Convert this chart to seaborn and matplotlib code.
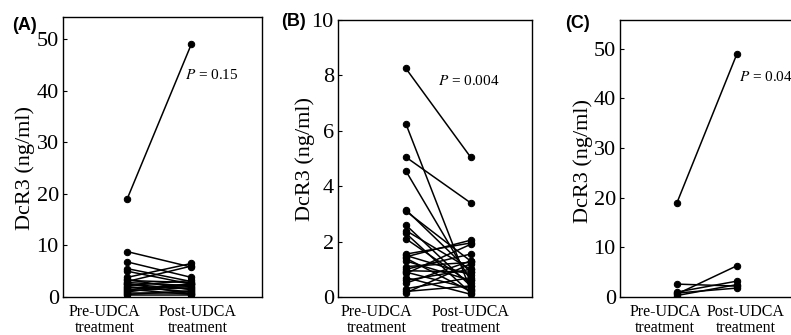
import pandas as pd
import seaborn as sb
import matplotlib.pyplot as plt

# panel A: all patients (pre, post)
a_pre = [19.0, 8.8, 6.8, 5.5, 5.0, 3.8, 3.4, 3.2, 3.0, 2.8, 2.6, 2.5, 2.2, 2.0,
         1.8, 1.5, 1.4, 1.2, 1.0, 0.8, 0.5, 0.3]
a_post = [49.0, 5.8, 3.8, 3.0, 2.5, 6.5, 1.4, 2.8, 6.0, 2.2, 0.6, 1.5, 3.2, 1.0,
          2.0, 0.5, 2.6, 1.8, 2.5, 0.8, 1.2, 0.3]

# panel B
b_pre = [8.25, 6.25, 5.05, 4.55, 3.15, 3.1, 2.6, 2.4, 2.3, 2.1, 1.55, 1.5, 1.45,
         1.4, 1.1, 1.0, 0.9, 0.85, 0.7, 0.6, 0.5, 0.3, 0.2, 0.15, 1.3, 0.95]
b_post = [5.05, 0.25, 3.4, 0.6, 0.9, 1.3, 0.4, 1.0, 0.15, 0.5, 1.95, 0.8, 2.05,
          0.2, 1.25, 1.55, 0.3, 1.9, 0.1, 1.0, 1.3, 0.7, 0.4, 1.2, 0.6, 0.9]

# panel C
c_pre = [19.0, 2.6, 0.6, 1.0, 0.3, 0.8]
c_post = [49.0, 2.2, 6.3, 3.2, 2.5, 1.8]

panels = [('(A)', a_pre, a_post, 'P = 0.15'),
          ('(B)', b_pre, b_post, 'P = 0.004'),
          ('(C)', c_pre, c_post, 'P = 0.04')]

tick_text = ['Pre-UDCA\ntreatment', 'Post-UDCA\ntreatment']

sb.set_theme(style="white")
plt.rcParams['font.family'] = ['Liberation Serif', 'DejaVu Serif']
plt.rcParams['mathtext.fontset'] = 'stix'
for k in ['text.color', 'axes.labelcolor', 'xtick.color', 'ytick.color']:
    plt.rcParams[k] = 'black'

fig = plt.figure(figsize=(7.91, 3.35), dpi=100)
boxes = [[0.0796, 0.1134, 0.2516, 0.8366],
         [0.4273, 0.1134, 0.2453, 0.8269],
         [0.7838, 0.1134, 0.2465, 0.8269]]
ylims = [(0, 54.3), (0, 10), (0, 55.8)]
yticks = [range(0, 51, 10), range(0, 11, 2), range(0, 51, 10)]
xlims = [(-1, 2.1), (-1.05, 1.95), (-0.95, 2.3)]
label_pos = [(-0.35, 1.1), (-0.45, 1.0), (-0.2, 1.15)]
ptext_pos = [(0.9, 43.0), (0.5, 7.8), (1.03, 44.4)]
letter_pos = [(0.015, 0.923), (0.356, 0.937), (0.714, 0.931)]
ylabel_xy = [(-0.14, 0.46), (-0.12, 0.5), (-0.14, 0.49)]

for i, (letter, pre, post, ptxt) in enumerate(panels):
    n = len(pre)
    df = pd.DataFrame({
        'subject': list(range(n)) * 2,
        'time': [0] * n + [1] * n,
        'value': pre + post,
    })
    ax = fig.add_axes(boxes[i])
    sb.lineplot(data=df, x='time', y='value', units='subject', estimator=None,
                color='black', marker='o', markersize=4.6, linewidth=1.1,
                markeredgecolor='black', ax=ax)
    ax.set_xlim(*xlims[i])
    ax.set_ylim(*ylims[i])
    ax.set_yticks(list(yticks[i]))
    ax.set_xticks(label_pos[i])
    ax.set_xticklabels(tick_text, fontsize=11.5, linespacing=1.0)
    ax.set_xlabel('')
    ax.set_ylabel('DcR3 (ng/ml)', fontsize=16)
    ax.yaxis.set_label_coords(*ylabel_xy[i])
    ax.tick_params(axis='y', direction='in', length=3, width=0.8,
                   labelsize=16, pad=3, left=True)
    ax.tick_params(axis='x', length=0, pad=5)
    for s in ax.spines.values():
        s.set_color('black')
        s.set_linewidth(1.0)
    ax.text(*ptext_pos[i], '$P$' + ptxt[1:], fontsize=11, ha='left', va='center')
    fig.text(*letter_pos[i], letter, family='Liberation Sans', fontweight='bold',
             fontsize=13, ha='left', va='center')

fig.savefig('out.png', dpi=100)
